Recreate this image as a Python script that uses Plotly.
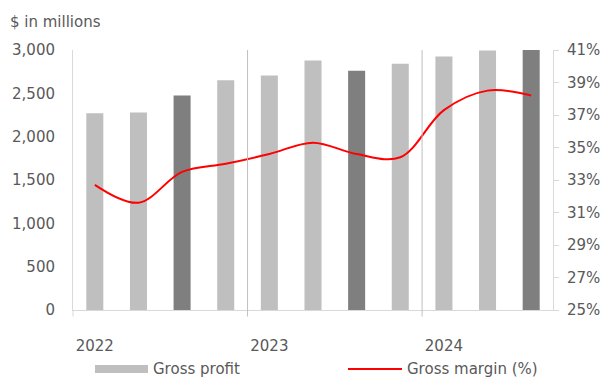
import plotly.graph_objects as go

# Quarterly gross profit ($ millions) and gross margin (%)
quarters = ["Q1 2022", "Q2 2022", "Q3 2022", "Q4 2022",
            "Q1 2023", "Q2 2023", "Q3 2023", "Q4 2023",
            "Q1 2024", "Q2 2024", "Q3 2024"]
gross_profit = [2270, 2280, 2475, 2650, 2705, 2880, 2760, 2840, 2925, 2995, 3000]
gross_margin = [32.7, 31.6, 33.5, 34.0, 34.6, 35.3, 34.6, 34.4, 37.3, 38.5, 38.2]
year_ticks = ["Q1 2022", "Q1 2023", "Q1 2024"]
year_labels = ["2022", "2023", "2024"]
profit_ticks = [0, 500, 1000, 1500, 2000, 2500, 3000]
margin_ticks = [25, 27, 29, 31, 33, 35, 37, 39, 41]
margin_tick_labels = [f"{v}%" for v in margin_ticks]

LIGHT = "#BFBFBF"
DARK = "#7F7F7F"
TEXT = "#595959"
FONT = "DejaVu Sans"
FS = 15

bar_colors = [DARK if q.startswith("Q3") else LIGHT for q in quarters]

fig = go.Figure()
fig.add_trace(go.Bar(
    x=quarters, y=gross_profit, name="Gross profit",
    marker=dict(color=bar_colors, line=dict(width=0)),
    width=0.39, yaxis="y", showlegend=False,
))
fig.add_trace(go.Scatter(
    x=quarters, y=gross_margin, name="Gross margin (%)",
    mode="lines", line=dict(color="#FF0000", width=2, shape="spline", smoothing=1),
    yaxis="y2", showlegend=False,
))

# year separators between Q4 and Q1
shapes = []
for pos in [3.5, 7.5]:
    shapes.append(dict(type="line", xref="x", yref="paper", x0=pos, x1=pos,
                       y0=-0.025, y1=1, line=dict(color="#BFBFBF", width=1)))
shapes.append(dict(type="line", xref="paper", yref="paper", x0=0, x1=0,
                   y0=-0.025, y1=0, line=dict(color="#D9D9D9", width=1)))

# legend drawn below the plot
LEG_Y = 369
shapes.append(dict(type="rect", xref="paper", yref="paper",
                   x0=(95 - 73) / 480, x1=(148 - 73) / 480,
                   y0=(310 - (LEG_Y + 4)) / 260, y1=(310 - (LEG_Y - 4)) / 260,
                   fillcolor=LIGHT, line=dict(width=0)))
shapes.append(dict(type="line", xref="paper", yref="paper",
                   x0=(348 - 73) / 480, x1=(402 - 73) / 480,
                   y0=(310 - LEG_Y) / 260, y1=(310 - LEG_Y) / 260,
                   line=dict(color="#FF0000", width=2)))

annotations = [
    dict(text="$ in millions", xref="paper", yref="paper",
         x=(8 - 73) / 480, y=(310 - 22) / 260, xanchor="left", yanchor="middle",
         showarrow=False, font=dict(family=FONT, size=FS, color=TEXT)),
    dict(text="Gross profit", xref="paper", yref="paper",
         x=(151 - 73) / 480, y=(310 - LEG_Y) / 260, xanchor="left", yanchor="middle",
         showarrow=False, font=dict(family=FONT, size=FS, color=TEXT)),
    dict(text="Gross margin (%)", xref="paper", yref="paper",
         x=(405 - 73) / 480, y=(310 - LEG_Y) / 260, xanchor="left", yanchor="middle",
         showarrow=False, font=dict(family=FONT, size=FS, color=TEXT)),
]

fig.update_layout(
    width=600, height=378,
    margin=dict(l=73, r=47, t=50, b=68, autoexpand=False),
    paper_bgcolor="white", plot_bgcolor="white",
    font=dict(family=FONT, size=FS, color=TEXT),
    xaxis=dict(
        type="category", categoryorder="array", categoryarray=quarters,
        range=[-0.5, 10.5], tickmode="array", tickvals=year_ticks, ticktext=year_labels,
        ticks="", showline=True, linecolor="#D9D9D9", linewidth=1,
        showgrid=False, zeroline=False, ticklabelstandoff=22, automargin=False,
    ),
    yaxis=dict(
        range=[0, 3000], tickmode="array", tickvals=profit_ticks,
        tickformat=",d", showgrid=False, zeroline=False,
        showline=True, linecolor="#D9D9D9", linewidth=1,
        ticks="", ticklabelstandoff=14, automargin=False,
    ),
    yaxis2=dict(
        overlaying="y", side="right", range=[25, 41],
        tickmode="array", tickvals=margin_ticks, ticktext=margin_tick_labels,
        showgrid=False, zeroline=False,
        showline=True, linecolor="#D9D9D9", linewidth=1,
        ticks="outside", ticklen=5, tickcolor="#D9D9D9", ticklabelstandoff=5,
        automargin=False,
    ),
    shapes=shapes, annotations=annotations, showlegend=False,
)

fig.write_html("out.html")
